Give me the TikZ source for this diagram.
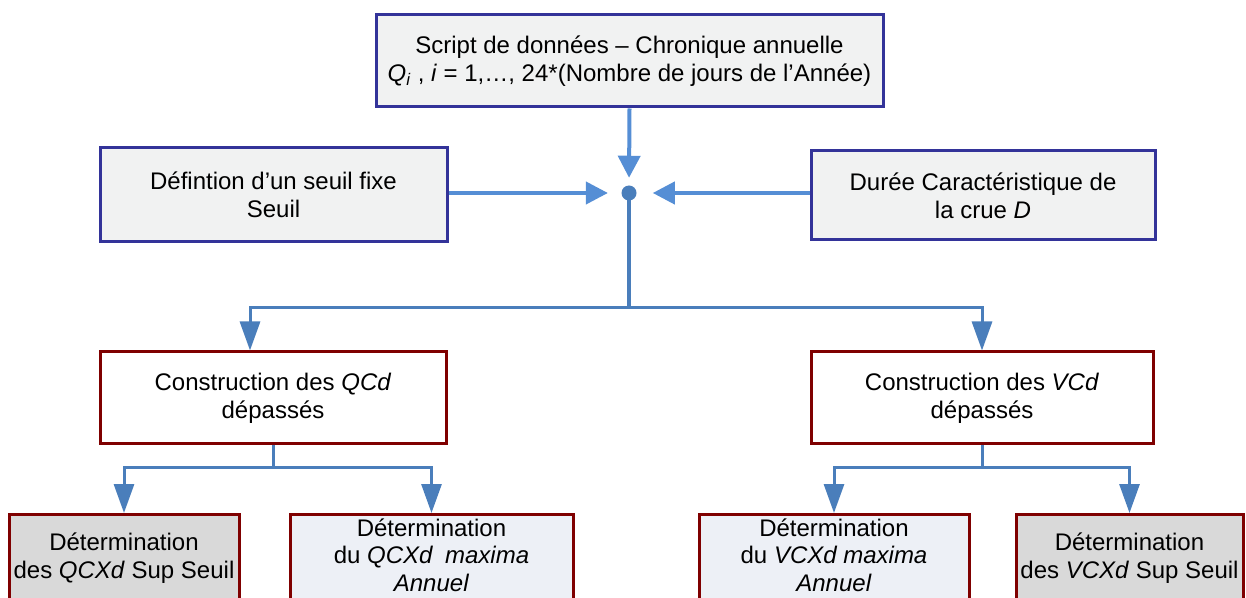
\documentclass[tikz,border=0pt]{standalone}
\usepackage{fontspec}
\setmainfont{Liberation Sans}
\usetikzlibrary{arrows.meta}

\definecolor{boxblue}{HTML}{333399}
\definecolor{boxred}{HTML}{7F0000}
\definecolor{paleFill}{HTML}{F1F2F2}
\definecolor{greyFill}{HTML}{D9D9D9}
\definecolor{blueFill}{HTML}{EDF0F6}
\definecolor{linkA}{HTML}{558ED5}
\definecolor{linkB}{HTML}{4A7EBB}

\begin{document}
\begin{tikzpicture}[x=0.75pt,y=-0.75pt,
  txt/.style={font=\fontsize{18}{21}\selectfont, align=center},
  txtB/.style={font=\fontsize{18}{20.5}\selectfont, align=center},
  inbox/.style={draw=boxblue, line width=2.25pt, fill=paleFill, txt, inner sep=0pt},
  outbox/.style={draw=boxred, line width=2.25pt, fill=white, txt, inner sep=0pt},
  leafgrey/.style={draw=boxred, line width=2.25pt, fill=greyFill, inner sep=0pt, anchor=north, minimum height=97.5pt},
  leafblue/.style={draw=boxred, line width=2.25pt, fill=blueFill, inner sep=0pt, anchor=north, minimum height=97.5pt},
  feed/.style={draw=linkA, line width=3pt, -{Triangle[length=16.5pt,width=16.5pt]}},
  stem/.style={draw=linkB, line width=2.6pt},
  branch/.style={draw=linkB, line width=2.25pt, -{Triangle[length=21.75pt,width=15pt]}},
]
\useasboundingbox (0,0) rectangle (1246,598);
\clip (0,0) rectangle (1246,598);

% input boxes
\node[inbox, minimum width=507*0.75pt, minimum height=92*0.75pt] (src) at (629.5,61)
  {Script de données – Chronique annuelle\\
   \textit{Q}\textsubscript{\textit{i}} , \textit{i} = 1,…, 24*(Nombre de jours de l’Année)};
\node[inbox, minimum width=347*0.75pt, minimum height=94*0.75pt] (thr) at (273.5,195)
  {Défintion d’un seuil fixe\\Seuil};
\node[inbox, minimum width=344*0.75pt, minimum height=89*0.75pt] (dur) at (983,195.5)
  {Durée Caractéristique de\\la crue \textit{D}};

% junction point
\node[circle, fill=linkB, inner sep=0pt, minimum size=15*0.75pt] (hub) at (629,193) {};

% construction boxes
\node[outbox, minimum width=346*0.75pt, minimum height=92*0.75pt] (qcd) at (273,398)
  {Construction des \textit{QCd}\\dépassés};
\node[outbox, minimum width=342*0.75pt, minimum height=92*0.75pt] (vcd) at (982,398)
  {Construction des \textit{VCd}\\dépassés};

% result boxes
\node[leafgrey, minimum width=230*0.75pt] (qsup) at (124,513) {};
\node[leafblue, minimum width=283*0.75pt] (qmax) at (431.5,513) {};
\node[leafblue, minimum width=270*0.75pt] (vmax) at (834,513) {};
\node[leafgrey, minimum width=227*0.75pt] (vsup) at (1129.5,513) {};

\node[txt] (qsupT) at (124,558) {Détermination\\des \textit{QCXd} Sup Seuil};
\node[txtB] (qmaxT) at (431.5,555) {Détermination\\du \textit{QCXd}\enspace\textit{maxima}\\\textit{Annuel}};
\node[txtB] (vmaxT) at (834,555) {Détermination\\du \textit{VCXd maxima}\\\textit{Annuel}};
\node[txt] (vsupT) at (1129.5,558) {Détermination\\des \textit{VCXd} Sup Seuil};

% feeds into the junction
\draw[feed, shorten >=5.6pt] (src.south) -- (hub.north);
\draw[feed, shorten >=10pt] (thr.east |- hub.west) -- (hub.west);
\draw[feed, shorten >=12pt] (dur.west |- hub.east) -- (hub.east);

% split towards the two constructions
\coordinate (split) at (629,308);
\draw[stem] (hub.center) -- (split);
\draw[branch] (split) -| ([xshift=-17.25pt]qcd.north);
\draw[branch] (split) -| (vcd.north);

% split below each construction
\coordinate (qsplit) at (273,467);
\coordinate (vsplit) at (982,467);
\draw[stem, line width=2.25pt] (qcd.south) -- (qsplit);
\draw[branch] (qsplit) -| (qsup.north);
\draw[branch] (qsplit) -| (qmax.north);
\draw[stem, line width=2.25pt] (vcd.south) -- (vsplit);
\draw[branch] (vsplit) -| (vmax.north);
\draw[branch] (vsplit) -| (vsup.north);
\end{tikzpicture}
\end{document}
